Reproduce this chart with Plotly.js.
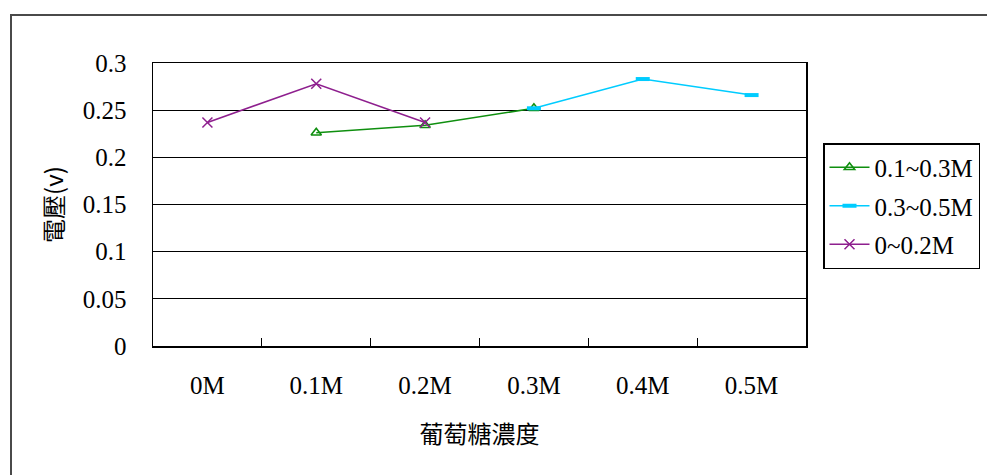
<!DOCTYPE html>
<html>
<head>
<meta charset="utf-8">
<script src="https://cdn.plot.ly/plotly-3.0.1.min.js"></script>
<style>
  html, body { margin: 0; padding: 0; background: #fff; }
  #chart { width: 987px; height: 475px; }
</style>
</head>
<body>
<div id="chart"></div>
<script>
// Glucose concentration categories on the x axis
const categories = ['0M', '0.1M', '0.2M', '0.3M', '0.4M', '0.5M'];

// Series 0.1~0.3M
const seriesA_x = ['0.1M', '0.2M', '0.3M'];
const seriesA_y = [0.226, 0.234, 0.252];

// Series 0.3~0.5M
const seriesB_x = ['0.3M', '0.4M', '0.5M'];
const seriesB_y = [0.252, 0.283, 0.266];

// Series 0~0.2M
const seriesC_x = ['0M', '0.1M', '0.2M'];
const seriesC_y = [0.237, 0.278, 0.237];

const seriesNames = ['0.1~0.3M', '0.3~0.5M', '0~0.2M'];
const yTicks = [0, 0.05, 0.1, 0.15, 0.2, 0.25, 0.3];
const yTickText = ['0', '0.05', '0.1', '0.15', '0.2', '0.25', '0.3'];

const W = 987, H = 475;
const M = { l: 153, r: 181, t: 63, b: 129, autoexpand: false };
const plotW = W - M.l - M.r, plotH = H - M.t - M.b;
const px2x = p => (p - M.l) / plotW;
const px2y = p => (H - M.b - p) / plotH;

const serif = 'Liberation Serif, Times New Roman, serif';
const cjk = 'Noto Sans CJK TC, Noto Sans CJK SC, sans-serif';

const traces = [
  {
    x: seriesA_x, y: seriesA_y, name: seriesNames[0], type: 'scatter', mode: 'lines+markers',
    line: { color: '#0f8f0f', width: 1.6 },
    marker: { symbol: 'triangle-up-open', size: 9, color: '#0f8f0f', line: { width: 1.6, color: '#0f8f0f' } },
    legendgroup: 'a'
  },
  {
    x: seriesB_x, y: seriesB_y, name: seriesNames[1], type: 'scatter', mode: 'lines+markers',
    line: { color: '#00ccff', width: 1.6 },
    marker: { symbol: 'line-ew', size: 10, color: '#00ccff', line: { width: 4, color: '#00ccff' } },
    legendgroup: 'b'
  },
  {
    x: seriesC_x, y: seriesC_y, name: seriesNames[2], type: 'scatter', mode: 'lines+markers',
    line: { color: '#8e1f8e', width: 1.6 },
    marker: { symbol: 'x-thin', size: 10, color: '#8e1f8e', line: { width: 1.5, color: '#8e1f8e' } },
    legendgroup: 'c'
  }
];

const layout = {
  width: W, height: H,
  margin: M,
  paper_bgcolor: '#ffffff',
  plot_bgcolor: '#ffffff',
  showlegend: true,
  font: { family: serif, size: 25, color: '#000' },
  xaxis: {
    type: 'category',
    categoryorder: 'array',
    categoryarray: categories,
    range: [-0.5, categories.length - 0.5],
    showgrid: false,
    zeroline: false,
    showline: true, mirror: true, linecolor: '#000', linewidth: 1.5,
    ticks: 'inside', ticklen: 8, tickwidth: 1.2, tickcolor: '#000',
    tickson: 'boundaries',
    tickfont: { family: serif, size: 25, color: '#000' },
    ticklabelstandoff: 16,
    title: { text: '葡萄糖濃度', font: { family: cjk, size: 24, color: '#000' }, standoff: 28 },
    fixedrange: true
  },
  yaxis: {
    range: [0, 0.3],
    tickvals: yTicks,
    ticktext: yTickText,
    showgrid: true, gridcolor: '#000', gridwidth: 1.2,
    zeroline: false,
    showline: true, mirror: true, linecolor: '#000', linewidth: 1.5,
    ticks: '',
    tickfont: { family: serif, size: 25, color: '#000' },
    ticklabelstandoff: 20,
    title: { text: '電壓(v)', font: { family: cjk, size: 24, color: '#000' }, standoff: 12 },
    fixedrange: true
  },
  legend: {
    x: px2x(823), xanchor: 'left',
    y: px2y(143), yanchor: 'top',
    bgcolor: '#fff',
    bordercolor: '#000', borderwidth: 1.5,
    font: { family: serif, size: 25, color: '#000' },
    tracegroupgap: 3,
    itemwidth: 40
  },
  shapes: [
    {
      type: 'rect', xref: 'paper', yref: 'paper', layer: 'below',
      x0: px2x(11), x1: px2x(W + 40),
      y0: px2y(H + 40), y1: px2y(15),
      line: { color: '#4a4a4a', width: 2 },
      fillcolor: 'rgba(0,0,0,0)'
    }
  ]
};

Plotly.newPlot('chart', traces, layout, { displayModeBar: false, staticPlot: true });
</script>
</body>
</html>
